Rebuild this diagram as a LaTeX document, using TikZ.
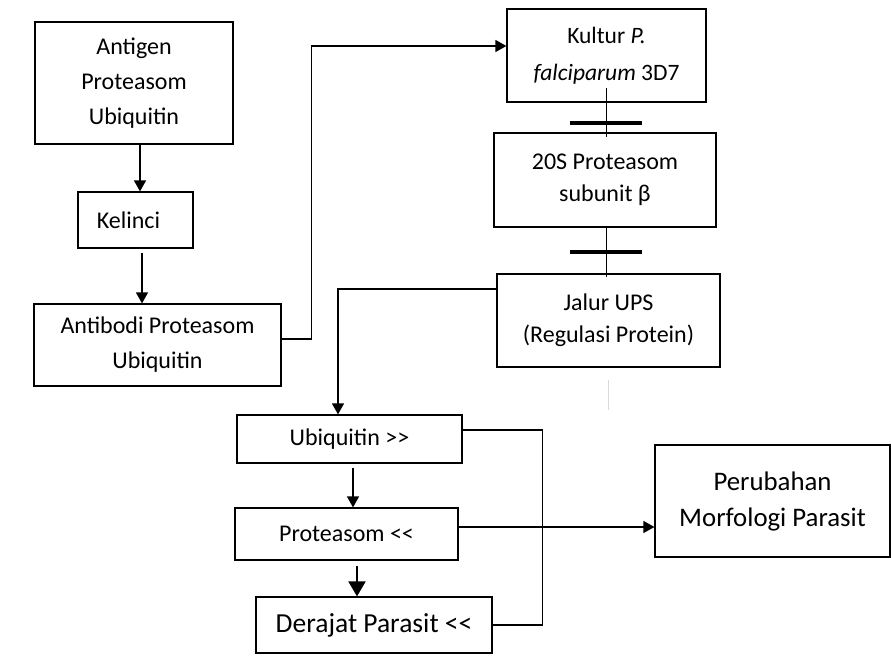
\documentclass[tikz,border=0pt]{standalone}
\usepackage{fontspec}
\setmainfont{Carlito}
\usetikzlibrary{arrows.meta,calc}
\begin{document}
\begin{tikzpicture}[x=1pt,y=-1pt,
  box/.style={draw,line width=1.2pt,inner sep=0pt,align=center,font=\fontsize{24}{35}\selectfont},
  bigbox/.style={box,font=\fontsize{27}{36}\selectfont},
  arr/.style={line width=1.2pt,-{Triangle[length=11pt,width=12pt]}},
  arrb/.style={line width=2pt,-{Triangle[length=15pt,width=17pt]}},
  ln/.style={line width=1.2pt},
  bar/.style={line width=4pt}]
\useasboundingbox (0,0) rectangle (891,666);

\node[box,minimum width=198pt,minimum height=122pt] (ant) at (134,83) {Antigen\\Proteasom\\Ubiquitin};
\node[box,minimum width=115pt,minimum height=56pt] (kel) at (135.5,220) {Kelinci\hspace{14pt}};
\node[box,minimum width=247pt,minimum height=82pt,font=\fontsize{24}{35}\selectfont] (ab) at (157.5,345) {Antibodi Proteasom\\Ubiquitin};
\node[box,minimum width=199pt,minimum height=93pt,font=\fontsize{23.5}{37}\selectfont] (k) at (606.5,55.5) {Kultur \textit{P.}\\\textit{falciparum} 3D7};
\node[box,minimum width=222pt,minimum height=94pt,font=\fontsize{24}{32}\selectfont] (s) at (605,180) {20S Proteasom\\subunit β};
\node[box,minimum width=223pt,minimum height=93pt,font=\fontsize{24}{32}\selectfont] (j) at (608.5,320.5) {Jalur UPS\\(Regulasi Protein)};
\node[box,minimum width=225pt,minimum height=48pt] (ub) at (349.5,439) {Ubiquitin {>}{>}};
\node[box,minimum width=223pt,minimum height=52pt] (p) at (346.5,534) {Proteasom {<}{<}};
\node[bigbox,minimum width=236pt,minimum height=56pt,font=\fontsize{27.5}{36}\selectfont] (d) at (374,625) {Derajat Parasit {<}{<}};
\node[bigbox,minimum width=235pt,minimum height=112pt,font=\fontsize{26.8}{36}\selectfont] (per) at (772.5,501) {Perubahan\\Morfologi Parasit};

% connectors
\draw[arr] ([xshift=6pt]ant.south) -- ([xshift=4.5pt]kel.north);
\draw[arr] ([xshift=6.5pt,yshift=-4pt]kel.south) -- ([xshift=-15.5pt]ab.north);
\draw[arr] ([yshift=6pt]ab.east) -| ([xshift=-195pt,yshift=9.5pt]k.west) -- ([yshift=9.5pt]k.west);
\draw[ln] ([yshift=15pt]k.south) -- ([yshift=-5pt]s.north -| k.south);
\draw[bar] (570,123) -- (642,123);
\draw[ln] (s.south -| k.south) -- ([yshift=-4pt]j.north -| k.south);
\draw[bar] (570,252) -- (642,252);
\draw[arr] ([yshift=31.5pt]j.west) -| ([xshift=-11.5pt]ub.north);
\draw[arr] ([xshift=3.5pt,yshift=-4pt]ub.south) -- ([xshift=6.5pt]p.north);
\draw[arrb] ([xshift=10.5pt,yshift=-5pt]p.south) -- ([xshift=-17pt]d.north);
\draw[ln] ([yshift=9pt]ub.east) -| ([xshift=50pt]d.east) -- (d.east);
\draw[arr] ([yshift=7pt]p.east) -- ([yshift=7pt]p.east -| per.west);
\draw[black!15,line width=1pt] (608,380) -- (608,410);
\end{tikzpicture}
\end{document}
